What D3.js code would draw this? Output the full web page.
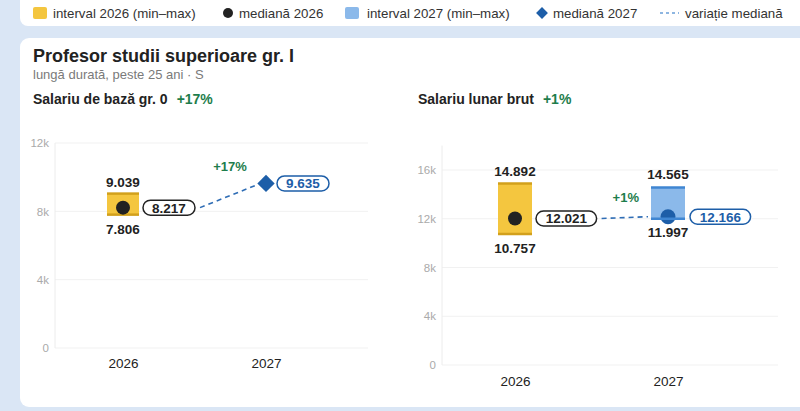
<!DOCTYPE html>
<html><head><meta charset="utf-8">
<script src="https://cdn.jsdelivr.net/npm/d3@7"></script>
<style>
html,body{margin:0;padding:0;background:#dae6f5;overflow:hidden;}
svg{display:block;font-family:"Liberation Sans",Arial,sans-serif;}
</style></head><body>
<svg id="c" width="800" height="411"></svg>
<script>
// ---- data ----
const years = ["2026", "2027"];
const panelTitles = ["Salariu de bază gr. 0", "Salariu lunar brut"];
const panelChange = ["+17%", "+1%"];
const min2026 = [7806, 10757];
const max2026 = [9039, 14892];
const med2026 = [8217, 12021];
const min2027 = [null, 11997];
const max2027 = [null, 14565];
const med2027 = [9635, 12166];
const yTicksLeft = [0, 4000, 8000, 12000];
const yTicksRight = [0, 4000, 8000, 12000, 16000];
const legendLabels = ["interval 2026 (min–max)", "mediană 2026", "interval 2027 (min–max)", "mediană 2027", "variație mediană"];
const title = "Profesor studii superioare gr. I";
const subtitle = "lungă durată, peste 25 ani · S";

const C = {y1:"#f4c63f", y1c:"#d2a01c", b1:"#8bb9ea", b1c:"#3f86d2", dark:"#222", blue:"#1d5ea8", green:"#1e7d4c", dash:"#2f6db5"};
const loc = d3.formatLocale({decimal:",", thousands:".", grouping:[3], currency:["",""]});
const fmt = loc.format(",d");
const tickFmt = v => v === 0 ? "0" : (v/1000) + "k";

const svg = d3.select("#c");
// legend box
svg.append("rect").attr("x",20).attr("y",-10).attr("width",820).attr("height",36).attr("rx",8).attr("fill","#fff");
// card
svg.append("rect").attr("x",20).attr("y",38).attr("width",820).attr("height",369).attr("rx",9).attr("fill","#fff");

// legend
const lg = svg.append("g").attr("font-size",13.3).attr("fill","#333");
lg.append("rect").attr("x",33).attr("y",7).attr("width",14).attr("height",12).attr("rx",2).attr("fill",C.y1);
lg.append("text").attr("x",53).attr("y",18).text(legendLabels[0]);
lg.append("circle").attr("cx",228).attr("cy",13).attr("r",5).attr("fill",C.dark);
lg.append("text").attr("x",239).attr("y",18).text(legendLabels[1]);
lg.append("rect").attr("x",345).attr("y",7).attr("width",14).attr("height",12).attr("rx",2).attr("fill",C.b1);
lg.append("text").attr("x",367).attr("y",18).text(legendLabels[2]);
lg.append("path").attr("d",d3.symbol(d3.symbolSquare,70)()).attr("transform","translate(542,13) rotate(45)").attr("fill",C.blue);
lg.append("text").attr("x",553).attr("y",18).text(legendLabels[3]);
lg.append("line").attr("x1",660).attr("x2",679).attr("y1",13).attr("y2",13).attr("stroke","#6a9fd8").attr("stroke-width",1.5).attr("stroke-dasharray","3,3");
lg.append("text").attr("x",685).attr("y",18).text(legendLabels[4]);

// titles
svg.append("text").attr("x",33).attr("y",62).attr("font-size",18).attr("font-weight","bold").attr("fill","#222").text(title);
svg.append("text").attr("x",33).attr("y",79).attr("font-size",13).attr("fill","#7a7a7a").text(subtitle);

const panels = [
  {tx:33, ax:55, right:368, x0:123, x1:266, dom:[0,12000], rng:[348,143], ticks:yTicksLeft, barW:32, yearY:367},
  {tx:418, ax:442, right:778, x0:515, x1:668, dom:[0,18000], rng:[365,145.6], ticks:yTicksRight, barW:34, yearY:385}
];

panels.forEach((p,i) => {
  const g = svg.append("g");
  const t = g.append("text").attr("x",p.tx).attr("y",104).attr("font-size",14).attr("font-weight","bold").attr("fill","#222");
  t.append("tspan").text(panelTitles[i]);
  t.append("tspan").attr("dx",9).attr("fill",C.green).text(panelChange[i]);

  const y = d3.scaleLinear().domain(p.dom).range(p.rng);
  const x = d3.scalePoint().domain(years).range([p.x0,p.x1]);

  // grid
  g.selectAll(".grid").data(p.ticks).join("line")
    .attr("x1",p.ax).attr("x2",p.right).attr("y1",d=>y(d)).attr("y2",d=>y(d))
    .attr("stroke","#f1f1f1").attr("stroke-width",1);
  g.append("line").attr("x1",p.ax).attr("x2",p.ax).attr("y1",p.rng[1]).attr("y2",p.rng[0]).attr("stroke","#ececec");
  // y axis labels
  const ya = g.append("g").attr("transform",`translate(${p.ax},0)`)
    .call(d3.axisLeft(y).tickValues(p.ticks).tickFormat(tickFmt).tickSize(0).tickPadding(6));
  ya.select(".domain").remove();
  ya.selectAll("text").attr("fill","#aaa").attr("font-size",11.5).attr("font-family","Liberation Sans, Arial, sans-serif");
  // x axis
  const xa = g.append("g").attr("transform",`translate(0,${p.yearY-13})`)
    .call(d3.axisBottom(x).tickSize(0).tickPadding(4));
  xa.select(".domain").remove();
  xa.selectAll("text").attr("fill","#222").attr("font-size",13.5).attr("font-family","Liberation Sans, Arial, sans-serif");

  const bw = p.barW;
  // 2026 bar
  const cx0 = x(years[0]);
  g.append("rect").attr("x",cx0-bw/2).attr("y",y(max2026[i])).attr("width",bw).attr("height",y(min2026[i])-y(max2026[i])).attr("fill",C.y1);
  [max2026[i],min2026[i]].forEach(v=>g.append("line").attr("x1",cx0-bw/2).attr("x2",cx0+bw/2).attr("y1",y(v)).attr("y2",y(v)).attr("stroke",C.y1c).attr("stroke-width",2.5));
  g.append("circle").attr("cx",cx0).attr("cy",y(med2026[i])).attr("r",7).attr("fill",C.dark);
  g.append("text").attr("x",cx0).attr("y",y(max2026[i])-7).attr("text-anchor","middle").attr("font-size",13.5).attr("font-weight","bold").attr("fill","#222").text(fmt(max2026[i]));
  g.append("text").attr("x",cx0).attr("y",y(min2026[i])+19).attr("text-anchor","middle").attr("font-size",13.5).attr("font-weight","bold").attr("fill","#222").text(fmt(min2026[i]));

  const cx1 = x(years[1]);
  // 2027 bar
  if (min2027[i] != null) {
    g.append("rect").attr("x",cx1-bw/2).attr("y",y(max2027[i])).attr("width",bw).attr("height",y(min2027[i])-y(max2027[i])).attr("fill",C.b1);
    g.append("circle").attr("cx",cx1).attr("cy",y(med2027[i])).attr("r",7.5).attr("fill",C.blue);
    [max2027[i],min2027[i]].forEach(v=>g.append("line").attr("x1",cx1-bw/2).attr("x2",cx1+bw/2).attr("y1",y(v)).attr("y2",y(v)).attr("stroke",C.b1c).attr("stroke-width",2.5));
    g.append("text").attr("x",cx1).attr("y",y(max2027[i])-8).attr("text-anchor","middle").attr("font-size",13.5).attr("font-weight","bold").attr("fill","#222").text(fmt(max2027[i]));
    g.append("text").attr("x",cx1).attr("y",y(min2027[i])+18).attr("text-anchor","middle").attr("font-size",13.5).attr("font-weight","bold").attr("fill","#222").text(fmt(min2027[i]));
  } else {
    g.append("path").attr("d",d3.symbol(d3.symbolSquare,150)()).attr("transform",`translate(${cx1},${y(med2027[i])}) rotate(45)`).attr("fill",C.blue);
  }

  // pills
  function pill(cx, v, color) {
    const s = fmt(v);
    const w = s.length*8.6 + 9;
    const pg = g.append("g");
    pg.append("rect").attr("x",cx).attr("y",y(v)-7.5).attr("width",w).attr("height",15).attr("rx",7.5)
      .attr("fill","#fff").attr("stroke",color).attr("stroke-width",1.5);
    pg.append("text").attr("x",cx+w/2).attr("y",y(v)+5).attr("text-anchor","middle").attr("font-size",13.5).attr("font-weight","bold").attr("fill",color).text(s);
    return cx + w;
  }
  const end0 = pill(cx0 + bw/2 + 4, med2026[i], C.dark);
  pill(cx1 + (min2027[i]!=null ? bw/2 + 5 : 11), med2027[i], C.blue);

  // dashed change line
  const xs = end0 + 5, xe = cx1 - (min2027[i]!=null ? bw/2 + 3 : 8);
  g.append("line").attr("x1",xs).attr("y1",y(med2026[i])).attr("x2",xe).attr("y2",y(med2027[i]) + (min2027[i]!=null?0:1))
    .attr("stroke",C.dash).attr("stroke-width",1.6).attr("stroke-dasharray","5,4");
  g.append("text").attr("x",(xs+xe)/2+1).attr("y",Math.min(y(med2026[i]),y(med2027[i])) - (min2027[i]!=null?15:12))
    .attr("text-anchor","middle").attr("font-size",13).attr("font-weight","bold").attr("fill",C.green).text(panelChange[i]);
});
</script></body></html>
